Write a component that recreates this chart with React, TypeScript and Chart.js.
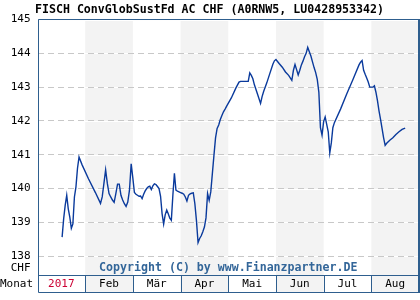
import React, { useEffect, useRef } from 'react';
import { Chart, registerables } from 'chart.js';
Chart.register(...registerables);

const title = 'FISCH ConvGlobSustFd AC CHF (A0RNW5, LU0428953342)';
const year = 2017;
const monthLabels = ['2017', 'Feb', 'Mär', 'Apr', 'Mai', 'Jun', 'Jul', 'Aug'];
const yTicks = [138, 139, 140, 141, 142, 143, 144, 145];
const yUnit = 'CHF';
const xUnit = 'Monat';
const copyright = 'Copyright (C) by www.Finanzpartner.DE';

const dates = [
  '01-17','01-18','01-19','01-20','01-21','01-22','01-23','01-24','01-25','01-26','01-27','01-28','01-30',
  '02-03','02-07','02-10','02-11','02-12','02-13','02-14','02-15','02-16','02-17','02-18','02-19','02-20',
  '02-21','02-22','02-23','02-24','02-25','02-26','02-27','02-28',
  '03-01','03-02','03-03','03-04','03-05','03-06','03-07','03-08','03-09','03-10','03-11','03-12','03-13',
  '03-14','03-15','03-16','03-17','03-18','03-19','03-20','03-21','03-22','03-23','03-24','03-25','03-26',
  '03-27','03-28','03-29','03-30','03-31',
  '04-01','04-02','04-03','04-04','04-05','04-06','04-07','04-08','04-09','04-10','04-11','04-12','04-13',
  '04-14','04-15','04-16','04-17','04-18','04-19','04-20','04-21','04-22','04-23','04-24','04-25','04-26',
  '04-27','04-28','04-29','04-30',
  '05-03','05-06','05-08','05-09','05-14','05-15','05-16','05-17','05-18','05-20','05-22','05-23','05-24',
  '05-26','05-28','05-30','05-31',
  '06-01','06-03','06-05','06-07','06-09','06-11','06-12','06-13','06-14','06-15','06-16','06-17','06-18',
  '06-19','06-20','06-21','06-22','06-23','06-24','06-25','06-26','06-27','06-28','06-29','06-30',
  '07-01','07-02','07-03','07-04','07-05','07-06','07-07','07-08','07-12','07-16','07-20','07-24','07-25',
  '07-26','07-27','07-28','07-29','07-30','07-31',
  '08-02','08-03','08-04','08-05','08-06','08-07','08-08','08-09','08-10','08-11','08-13','08-15','08-17',
  '08-19','08-21','08-23',
];

const prices = [
  138.56,139.1,139.5,139.8,139.4,139.15,138.82,138.95,139.75,140.05,140.6,140.93,140.7,
  140.28,139.88,139.56,139.75,140.15,140.55,140.15,139.85,139.75,139.66,139.59,139.85,140.13,
  140.13,139.8,139.66,139.55,139.47,139.6,139.95,140.73,
  140.3,139.88,139.83,139.8,139.77,139.78,139.7,139.83,139.93,140.0,140.05,140.07,139.97,
  140.08,140.14,140.12,140.06,140.0,139.77,139.25,138.95,139.22,139.36,139.25,139.12,139.06,
  139.8,140.45,139.95,139.92,139.9,
  139.88,139.86,139.83,139.75,139.63,139.8,139.84,139.86,139.87,139.55,139.05,138.4,138.52,
  138.6,138.72,138.86,139.13,139.85,139.65,139.9,140.44,140.98,141.5,141.78,141.88,142.04,
  142.16,142.27,142.35,142.44,
  142.68,142.98,143.15,143.17,143.17,143.42,143.35,143.25,143.07,142.8,142.52,142.72,142.87,
  143.12,143.4,143.68,143.78,
  143.82,143.7,143.59,143.45,143.35,143.2,143.5,143.67,143.52,143.36,143.5,143.66,143.77,
  143.9,144.0,144.18,144.05,143.92,143.75,143.58,143.43,143.23,142.85,141.8,141.58,
  141.98,142.12,141.9,141.68,141.05,141.35,141.8,141.95,142.35,142.8,143.22,143.66,143.74,
  143.79,143.5,143.38,143.27,143.15,143.0,
  143.0,143.04,142.85,142.6,142.3,142.05,141.77,141.5,141.28,141.34,141.43,141.5,141.6,
  141.68,141.75,141.79,
];

const MONO = "'DejaVu Sans Mono', monospace";
const FRAME = '#2e5e8e';
const BAND = '#f3f3f3';

function monthPos(s: string): number {
  const [m, d] = s.split('-').map(Number);
  const dim = new Date(year, m, 0).getDate();
  return (m - 1) + (d - 1) / dim;
}

const decor = {
  id: 'decor',
  beforeDraw(chart: any) {
    const { ctx, chartArea: a, scales } = chart;
    const x = scales.x, y = scales.y;
    const rowBottom = a.bottom + 17;
    ctx.save();
    ctx.fillStyle = '#ffffff';
    ctx.fillRect(0, 0, chart.width, chart.height);
    for (let i = 0; i < monthLabels.length; i++) {
      const l = x.getPixelForValue(i), r = x.getPixelForValue(i + 1);
      if (i % 2 === 1) {
        ctx.fillStyle = BAND;
        ctx.fillRect(l, a.top, r - l, rowBottom - a.top);
      }
    }
    ctx.strokeStyle = '#ffffff';
    ctx.lineWidth = 1;
    yTicks.forEach((v) => {
      const py = Math.round(y.getPixelForValue(v)) + 0.5;
      ctx.beginPath();
      ctx.moveTo(a.left, py);
      ctx.lineTo(a.right, py);
      ctx.stroke();
    });
    ctx.restore();
  },
  beforeDatasetsDraw(chart: any) {
    const { ctx, chartArea: a } = chart;
    ctx.save();
    ctx.font = `bold 11.6px ${MONO}`;
    ctx.fillStyle = '#336699';
    ctx.textAlign = 'center';
    ctx.textBaseline = 'middle';
    ctx.fillText(copyright, (a.left + a.right) / 2, a.bottom - 7);
    ctx.restore();
  },
  afterDatasetsDraw(chart: any) {
    const { ctx, chartArea: a, scales } = chart;
    const x = scales.x;
    const rowBottom = a.bottom + 17;
    ctx.save();
    ctx.strokeStyle = FRAME;
    ctx.lineWidth = 1;
    const L = Math.round(a.left) + 0.5;
    const T = Math.round(a.top) + 0.5;
    const B = Math.round(a.bottom) + 0.5;
    const RB = Math.round(rowBottom) + 0.5;
    const R = Math.round(a.right) - 0.5;
    ctx.beginPath();
    ctx.moveTo(L, T); ctx.lineTo(R, T);
    ctx.moveTo(L, T); ctx.lineTo(L, RB);
    ctx.moveTo(R, T); ctx.lineTo(R, RB);
    ctx.moveTo(L, B); ctx.lineTo(R, B);
    ctx.moveTo(L, RB); ctx.lineTo(R, RB);
    for (let i = 1; i < monthLabels.length; i++) {
      const px = Math.round(x.getPixelForValue(i)) + 0.5;
      ctx.moveTo(px, B); ctx.lineTo(px, RB);
    }
    ctx.stroke();
    ctx.fillStyle = FRAME;
    ctx.fillRect(Math.round(a.right) - 1, Math.round(a.top), 2, RB - Math.round(a.top) + 0.5);

    ctx.font = `11px ${MONO}`;
    ctx.textAlign = 'center';
    ctx.textBaseline = 'middle';
    for (let i = 0; i < monthLabels.length; i++) {
      const c = (x.getPixelForValue(i) + x.getPixelForValue(i + 1)) / 2;
      ctx.fillStyle = i === 0 ? '#cc0033' : '#000000';
      ctx.fillText(monthLabels[i], c, (a.bottom + rowBottom) / 2 + 1);
    }
    ctx.fillStyle = '#000000';
    ctx.textAlign = 'left';
    ctx.fillText(xUnit, 0, (a.bottom + rowBottom) / 2 + 1);
    ctx.textAlign = 'right';
    ctx.fillText(yUnit, a.left - 7, a.bottom - 7);
    ctx.restore();
  },
};

export default function App() {
  const ref = useRef<HTMLCanvasElement | null>(null);
  useEffect(() => {
    document.body.style.margin = '0';
    const canvas = ref.current!;
    const chart = new Chart(canvas, {
      type: 'line',
      data: {
        datasets: [
          {
            data: dates.map((d, i) => ({ x: monthPos(d), y: prices[i] })),
            borderColor: '#0a3a9c',
            borderWidth: 1.4,
            pointRadius: 0,
            tension: 0,
            fill: false,
          },
        ],
      },
      options: {
        responsive: false,
        animation: false,
        devicePixelRatio: 1,
        layout: { padding: { left: 0, right: 1, top: 0, bottom: 25 } },
        plugins: {
          legend: { display: false },
          tooltip: { enabled: false },
          title: {
            display: true,
            text: title,
            color: '#000000',
            font: { family: MONO, size: 11.6, weight: 'bold' },
            padding: { top: 3, bottom: 2 },
          },
        },
        scales: {
          x: { type: 'linear', min: 0, max: monthLabels.length, display: false },
          y: {
            type: 'linear',
            min: 137.44,
            max: 145.02,
            afterBuildTicks: (s: any) => { s.ticks = yTicks.map((v) => ({ value: v })); },
            afterFit: (s: any) => { s.width = 37.5; },
            grid: { color: '#c8c8c8', drawTicks: false, lineWidth: 1 },
            border: { display: false, dash: [6, 4] },
            ticks: {
              padding: 7,
              color: '#000000',
              font: { family: MONO, size: 11 },
              callback: (v: any) => String(v),
            },
          },
        },
      },
      plugins: [decor],
    } as any);
    return () => chart.destroy();
  }, []);
  return (
    <div style={{ position: 'absolute', left: 0, top: 0, width: 420, height: 300 }}>
      <canvas ref={ref} width={420} height={300} />
    </div>
  );
}
